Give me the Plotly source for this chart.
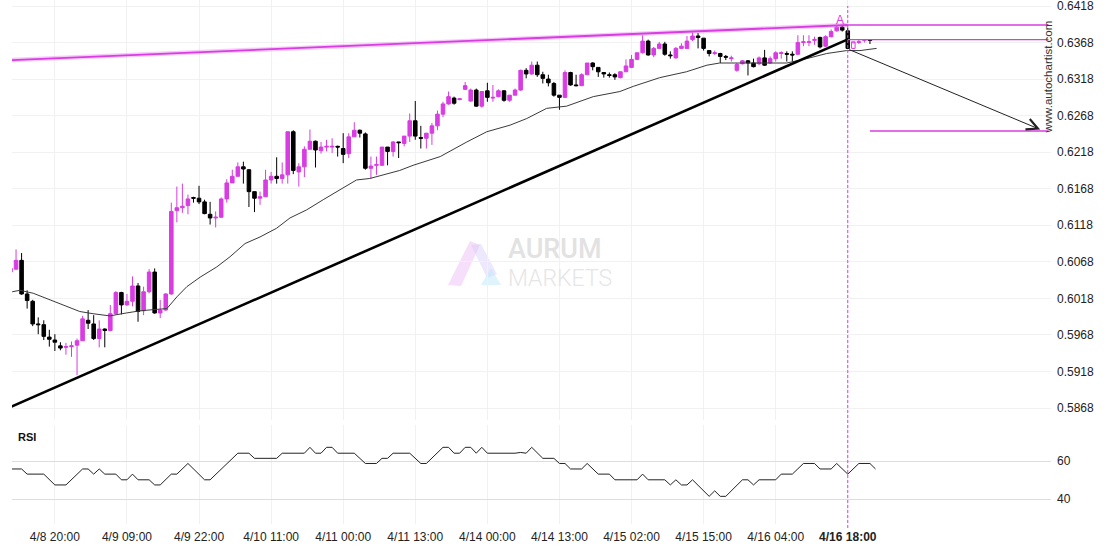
import plotly.graph_objects as go

# ---------------- data ----------------
opens = [0.6054,0.6058,0.6070,0.6024,0.6014,0.5983,0.5982,0.5965,0.5961,0.5953,
         0.5951,0.5952,0.5954,0.5960,0.5988,0.5983,0.5963,0.5976,0.5974,0.5997,
         0.6026,0.6009,0.6014,0.6035,0.6001,0.6027,0.6054,0.5998,0.6002,0.6024,
         0.6138,0.6142,0.6145,0.6156,0.6155,0.6150,0.6133,0.6128,0.6129,0.6154,
         0.6176,0.6185,0.6198,0.6194,0.6164,0.6155,0.6157,0.6180,0.6185,0.6182,
         0.6187,0.6246,0.6191,0.6198,0.6222,0.6233,0.6220,0.6225,0.6225,0.6226,
         0.6223,0.6216,0.6239,0.6248,0.6243,0.6196,0.6200,0.6200,0.6225,0.6219,
         0.6232,0.6230,0.6240,0.6261,0.6238,0.6237,0.6244,0.6254,0.6270,0.6284,
         0.6292,0.6290,0.6304,0.6288,0.6303,0.6281,0.6302,0.6292,0.6294,0.6302,
         0.6289,0.6296,0.6303,0.6330,0.6325,0.6337,0.6324,0.6318,0.6312,0.6296,
         0.6293,0.6327,0.6310,0.6309,0.6324,0.6340,0.6334,0.6327,0.6324,0.6324,
         0.6320,0.6328,0.6334,0.6345,0.6354,0.6370,0.6351,0.6360,0.6366,0.6351,
         0.6347,0.6360,0.6360,0.6372,0.6377,0.6374,0.6357,0.6353,0.6353,0.6349,
         0.6346,0.6330,0.6339,0.6343,0.6340,0.6339,0.6347,0.6340,0.6346,0.6353,
         0.6353,0.6352,0.6352,0.6368,0.6368,0.6371,0.6375,0.6363,0.6376,0.6384,
         0.6389,0.6384,0.6360,0.6368,0.6371,0.6372]
highs = [0.6062,0.6085,0.6080,0.6029,0.6016,0.5992,0.5988,0.5975,0.5969,0.5958,
         0.5957,0.5959,0.5963,0.5994,0.6002,0.5995,0.5988,0.5977,0.6009,0.6028,
         0.6027,0.6024,0.6048,0.6039,0.6034,0.6058,0.6059,0.6016,0.6025,0.6149,
         0.6171,0.6175,0.6160,0.6157,0.6172,0.6153,0.6150,0.6137,0.6156,0.6181,
         0.6194,0.6204,0.6205,0.6195,0.6164,0.6164,0.6194,0.6191,0.6211,0.6204,
         0.6246,0.6248,0.6203,0.6226,0.6249,0.6234,0.6232,0.6235,0.6237,0.6227,
         0.6244,0.6244,0.6259,0.6249,0.6245,0.6212,0.6212,0.6225,0.6225,0.6233,
         0.6232,0.6240,0.6271,0.6288,0.6254,0.6244,0.6258,0.6275,0.6287,0.6301,
         0.6294,0.6292,0.6314,0.6305,0.6305,0.6301,0.6313,0.6310,0.6304,0.6303,
         0.6296,0.6305,0.6331,0.6333,0.6342,0.6342,0.6328,0.6324,0.6314,0.6296,
         0.6330,0.6328,0.6324,0.6326,0.6340,0.6341,0.6334,0.6327,0.6327,0.6326,
         0.6328,0.6345,0.6351,0.6354,0.6378,0.6372,0.6362,0.6369,0.6369,0.6356,
         0.6362,0.6367,0.6377,0.6382,0.6381,0.6374,0.6357,0.6357,0.6354,0.6351,
         0.6350,0.6340,0.6344,0.6344,0.6346,0.6349,0.6358,0.6349,0.6356,0.6356,
         0.6356,0.6356,0.6378,0.6378,0.6378,0.6376,0.6376,0.6378,0.6386,0.6392,
         0.6392,0.6388,0.6369,0.6372,0.6372,0.6372]
lows = [0.6053,0.6057,0.6023,0.6004,0.5980,0.5969,0.5961,0.5952,0.5946,0.5947,
        0.5941,0.5938,0.5913,0.5960,0.5976,0.5961,0.5951,0.5951,0.5973,0.5996,
        0.5996,0.6008,0.6007,0.5986,0.5995,0.6025,0.5997,0.5991,0.6001,0.6023,
        0.6122,0.6135,0.6133,0.6149,0.6147,0.6133,0.6119,0.6115,0.6128,0.6149,
        0.6176,0.6185,0.6175,0.6143,0.6136,0.6146,0.6157,0.6175,0.6175,0.6175,
        0.6175,0.6188,0.6171,0.6184,0.6222,0.6197,0.6216,0.6219,0.6217,0.6212,
        0.6203,0.6210,0.6239,0.6238,0.6194,0.6182,0.6187,0.6200,0.6200,0.6212,
        0.6210,0.6226,0.6232,0.6235,0.6223,0.6223,0.6228,0.6248,0.6266,0.6283,
        0.6283,0.6289,0.6303,0.6287,0.6280,0.6279,0.6287,0.6287,0.6293,0.6287,
        0.6287,0.6296,0.6302,0.6319,0.6324,0.6321,0.6312,0.6308,0.6294,0.6276,
        0.6292,0.6309,0.6308,0.6309,0.6324,0.6330,0.6321,0.6320,0.6320,0.6317,
        0.6319,0.6328,0.6333,0.6344,0.6353,0.6350,0.6348,0.6360,0.6350,0.6346,
        0.6346,0.6360,0.6360,0.6370,0.6360,0.6357,0.6349,0.6351,0.6340,0.6344,
        0.6342,0.6328,0.6338,0.6323,0.6334,0.6337,0.6336,0.6339,0.6342,0.6346,
        0.6342,0.6342,0.6351,0.6363,0.6363,0.6365,0.6360,0.6362,0.6375,0.6383,
        0.6383,0.6359,0.6359,0.6366,0.6368,0.6366]
closes = [0.6059,0.6070,0.6024,0.6015,0.5983,0.5982,0.5966,0.5962,0.5958,0.5950,
          0.5952,0.5953,0.5960,0.5990,0.5984,0.5963,0.5976,0.5974,0.5997,0.6026,
          0.6009,0.6014,0.6035,0.6000,0.6027,0.6054,0.5998,0.6002,0.6024,0.6137,
          0.6142,0.6144,0.6154,0.6155,0.6150,0.6134,0.6128,0.6129,0.6154,0.6176,
          0.6185,0.6198,0.6195,0.6164,0.6155,0.6157,0.6180,0.6185,0.6182,0.6187,
          0.6246,0.6193,0.6198,0.6222,0.6233,0.6221,0.6225,0.6226,0.6226,0.6225,
          0.6215,0.6239,0.6248,0.6244,0.6196,0.6199,0.6201,0.6225,0.6219,0.6232,
          0.6231,0.6240,0.6261,0.6240,0.6237,0.6244,0.6254,0.6270,0.6284,0.6294,
          0.6285,0.6291,0.6309,0.6303,0.6281,0.6301,0.6293,0.6293,0.6302,0.6289,
          0.6296,0.6303,0.6330,0.6325,0.6337,0.6324,0.6319,0.6313,0.6296,0.6293,
          0.6327,0.6310,0.6309,0.6324,0.6340,0.6335,0.6328,0.6325,0.6323,0.6321,
          0.6328,0.6336,0.6345,0.6354,0.6370,0.6351,0.6360,0.6366,0.6352,0.6350,
          0.6360,0.6363,0.6370,0.6377,0.6375,0.6360,0.6353,0.6354,0.6349,0.6348,
          0.6347,0.6338,0.6343,0.6340,0.6335,0.6347,0.6337,0.6346,0.6354,0.6354,
          0.6352,0.6351,0.6368,0.6369,0.6369,0.6372,0.6362,0.6376,0.6383,0.6389,
          0.6385,0.6360,0.6369,0.6369,0.6372,0.6371]

ma_idx = [0.3,1.7,4.1,7.1,10.1,12.5,14.9,17.9,20.9,23.4,26.4,28.2,30.0,31.8,34.2,
          37.2,39.6,42.3,45.0,48.0,50.4,53.4,56.4,59.4,62.4,64.8,67.2,70.2,72.6,
          77.5,82.3,85.9,90.1,93.1,96.7,98.5,100.3,105.1,109.9,112.3,115.3,117.1,
          121.9,125.6,127.9,133.9,140.0,143.6,147.2,150.8,153.2,156.2]
ma_val = [0.6027,0.6029,0.6025,0.6016,0.6007,0.6000,0.5997,0.5994,0.5998,0.6001,
          0.6003,0.6004,0.6020,0.6034,0.6047,0.6061,0.6075,0.6093,0.6102,0.6114,
          0.6128,0.6139,0.6153,0.6166,0.6180,0.6182,0.6187,0.6193,0.6200,0.6212,
          0.6232,0.6246,0.6255,0.6264,0.6278,0.6279,0.6281,0.6294,0.6301,0.6308,
          0.6316,0.6320,0.6328,0.6337,0.6340,0.6340,0.6340,0.6346,0.6353,0.6357,
          0.6357,0.6360]

rsi_idx = [0,2,3,6,8,10,13,14,15,16,17,19,20,21,22,23,25,26,27,29,30,32,35,36,41,43,
           44,48,49,53,54,55,56,57,58,59,62,64,66,67,68,69,72,74,75,78,79,80,81,82,
           83,84,85,86,91,92,93,94,96,98,99,100,101,103,104,106,108,109,113,114,115,
           118,119,120,121,122,123,126,127,128,129,132,133,134,135,138,139,141,143,
           145,146,148,149,151,153,155,156]
rsi_val = [55.8,55.8,53.1,53.1,47.4,47.4,55.8,55.8,53.1,55.8,53.1,53.1,50.1,50.1,53.1,
           50.1,50.1,47.4,47.4,53.1,53.1,58.7,50.1,50.1,64.1,64.1,61.4,61.4,64.1,64.1,
           67.2,64.1,64.1,67.2,67.2,64.1,64.1,58.7,58.7,61.4,61.4,64.1,64.1,58.7,58.7,
           67.2,67.2,64.1,64.1,67.2,67.2,64.1,67.2,64.1,64.1,64.5,64.1,67.2,61.4,61.4,
           58.7,58.7,55.8,55.8,58.7,53.1,53.1,50.1,50.1,53.1,50.1,50.1,47.4,50.1,47.4,
           47.4,50.1,41.4,44.3,41.4,41.4,50.1,50.1,47.4,50.1,50.1,53.1,53.1,58.7,58.7,
           55.8,55.8,58.7,53.1,58.7,58.7,55.8]

tick_idx = [8,21,34,47,60,73,86,99,112,125,138,151]
tick_lbl = ["4/8 20:00","4/9 09:00","4/9 22:00","4/10 11:00","4/11 00:00","4/11 13:00",
            "4/14 00:00","4/14 13:00","4/15 02:00","4/15 15:00","4/16 04:00","<b>4/16 18:00</b>"]
price_ticks = [0.5868,0.5918,0.5968,0.6018,0.6068,0.6118,0.6168,0.6218,0.6268,0.6318,0.6368,0.6418]
price_lbls = ["0.5868","0.5918","0.5968","0.6018","0.6068","0.6118","0.6168","0.6218",
              "0.6268","0.6318","0.6368","0.6418"]

# pattern lines
resist_idx = [0, 151]
resist_val = [0.6344, 0.6392]
support_idx = [0, 151]
support_val = [0.58694, 0.63724]
top_level_idx = [151, 187.2]
top_level_val = [0.6392, 0.6392]
break_level_idx = [151, 187.2]
break_level_val = [0.6372, 0.6372]
target_idx = [155, 187.2]
target_val = [0.6247, 0.6247]
arrow_from = (151, 0.63592)
arrow_to = (185.7, 0.6249)
signal_idx = 151

# ---------------- figure ----------------
PINK = "#d83ce2"
W, H = 1110, 550
ML, MR, MT, MB = 12, 59, 0, 26
PW, PH = W - ML - MR, H - MT - MB


def px(x):
    return (x - ML) / PW


def py(y):
    return (PH + MT - y) / PH


n_main = 152
fig = go.Figure()
fig.add_trace(go.Candlestick(
    x=list(range(n_main)), open=opens[:n_main], high=highs[:n_main],
    low=lows[:n_main], close=closes[:n_main],
    increasing=dict(line=dict(color=PINK, width=1), fillcolor=PINK),
    decreasing=dict(line=dict(color="black", width=1), fillcolor="black"),
    whiskerwidth=0, hoverinfo="skip", showlegend=False, xaxis="x", yaxis="y"))
fig.add_trace(go.Candlestick(
    x=list(range(n_main, len(opens))), open=opens[n_main:], high=highs[n_main:],
    low=lows[n_main:], close=closes[n_main:],
    increasing=dict(line=dict(color=PINK, width=1), fillcolor="white"),
    decreasing=dict(line=dict(color="black", width=1), fillcolor="black"),
    whiskerwidth=0, hoverinfo="skip", showlegend=False, xaxis="x", yaxis="y"))

fig.add_trace(go.Scatter(x=ma_idx, y=ma_val, mode="lines",
                         line=dict(color="#3a3a3a", width=1), hoverinfo="skip",
                         showlegend=False, xaxis="x", yaxis="y"))

# resistance (with soft glow)
fig.add_trace(go.Scatter(x=resist_idx, y=resist_val, mode="lines",
                         line=dict(color="rgba(225,110,235,0.35)", width=4.5),
                         hoverinfo="skip", showlegend=False))
fig.add_trace(go.Scatter(x=resist_idx, y=resist_val, mode="lines",
                         line=dict(color=PINK, width=1.8), hoverinfo="skip", showlegend=False))
fig.add_trace(go.Scatter(x=support_idx, y=support_val, mode="lines",
                         line=dict(color="black", width=2.6), hoverinfo="skip", showlegend=False))
for xs, ys in [(top_level_idx, top_level_val), (break_level_idx, break_level_val),
               (target_idx, target_val)]:
    fig.add_trace(go.Scatter(x=xs, y=ys, mode="lines", line=dict(color=PINK, width=1.3),
                             hoverinfo="skip", showlegend=False))

fig.add_trace(go.Scatter(x=rsi_idx, y=rsi_val, mode="lines",
                         line=dict(color="#222222", width=1), hoverinfo="skip",
                         showlegend=False, xaxis="x2", yaxis="y2"))

annotations = [
    dict(x=arrow_to[0], y=arrow_to[1], ax=arrow_from[0], ay=arrow_from[1],
         xref="x", yref="y", axref="x", ayref="y", text="", showarrow=True,
         arrowhead=5, arrowsize=2.2, arrowwidth=1, arrowcolor="#222"),
    dict(x=149.6, y=0.63995, xref="x", yref="y", text="A", showarrow=False,
         font=dict(color=PINK, size=12, family="Liberation Sans, Arial")),
    dict(x=px(26.5), y=py(437), xref="paper", yref="paper", text="<b>RSI</b>",
         xanchor="center", yanchor="middle", showarrow=False,
         font=dict(size=11, color="#111", family="Liberation Sans, Arial")),
    dict(x=px(1047.5), y=py(77), xref="paper", yref="paper", text="www.autochartist.com",
         textangle=-90, xanchor="center", yanchor="middle", showarrow=False,
         font=dict(size=11.5, color="#333", family="Liberation Sans, Arial")),
    dict(x=px(506), y=py(248.5), xref="paper", yref="paper", text="AURUM", xanchor="left",
         yanchor="middle", showarrow=False,
         font=dict(size=27, color="#e2e2e2", family="Roboto", weight=500)),
    dict(x=px(506), y=py(278.5), xref="paper", yref="paper", text="MARKETS", xanchor="left",
         yanchor="middle", showarrow=False,
         font=dict(size=23, color="#e6e6e6", family="Roboto", weight=300)),
]


def poly(points):
    return "M " + " L ".join(f"{px(a):.5f},{py(b):.5f}" for a, b in points) + " Z"


shapes = [
    dict(type="line", xref="x", yref="paper", x0=signal_idx, x1=signal_idx,
         y0=py(528), y1=py(6), line=dict(color=PINK, width=1, dash="3px,2px")),
    dict(type="path", xref="paper", yref="paper", layer="below",
         path=poly([(448, 285), (461, 286), (480, 245), (470, 241)]),
         fillcolor="rgba(235,185,245,0.45)", line=dict(width=0)),
    dict(type="path", xref="paper", yref="paper", layer="below",
         path=poly([(471, 245), (481, 244), (497, 274), (487, 278)]),
         fillcolor="rgba(215,205,248,0.45)", line=dict(width=0)),
    dict(type="path", xref="paper", yref="paper", layer="below",
         path=poly([(481, 285), (491, 268), (501, 285)]),
         fillcolor="rgba(190,232,250,0.5)", line=dict(width=0)),
]

axis_font = dict(size=12, color="#222", family="Liberation Sans, Arial")
fig.update_layout(
    width=W, height=H, margin=dict(l=ML, r=MR, t=MT, b=MB, autoexpand=False),
    paper_bgcolor="white", plot_bgcolor="white", showlegend=False,
    boxgap=0.2, boxgroupgap=0.2,
    xaxis=dict(domain=[0, 1], anchor="y", range=[0.27, 187.65], tickvals=tick_idx,
               showticklabels=False, showgrid=True, gridcolor="#f1f1f1", zeroline=False,
               showline=False, ticks="", rangeslider=dict(visible=False)),
    yaxis=dict(domain=[py(420), 1], anchor="x", side="right",
               range=[0.585158, 0.642621], tickvals=price_ticks, ticktext=price_lbls,
               showgrid=True, gridcolor="#f1f1f1", zeroline=False, ticks="",
               tickfont=axis_font, ticklabelstandoff=5, ticklabeloverflow="allow"),
    xaxis2=dict(domain=[0, 1], anchor="y2", matches="x", range=[0.27, 187.65],
                tickvals=tick_idx, ticktext=tick_lbl, showgrid=True, gridcolor="#f1f1f1",
                zeroline=False, showline=False, ticks="", tickfont=axis_font,
                ticklabelstandoff=4),
    yaxis2=dict(domain=[0, py(425)], anchor="x2", side="right", range=[26.84, 78.95],
                tickvals=[40, 60], ticktext=["40", "60"], showgrid=True, gridcolor="#dddddd",
                zeroline=False, ticks="", tickfont=axis_font, ticklabelstandoff=5),
    annotations=annotations, shapes=shapes,
)

fig.write_html("out.html", config={"displayModeBar": False},
               post_script="document.body.style.margin='0px';document.body.style.overflow='hidden';")
